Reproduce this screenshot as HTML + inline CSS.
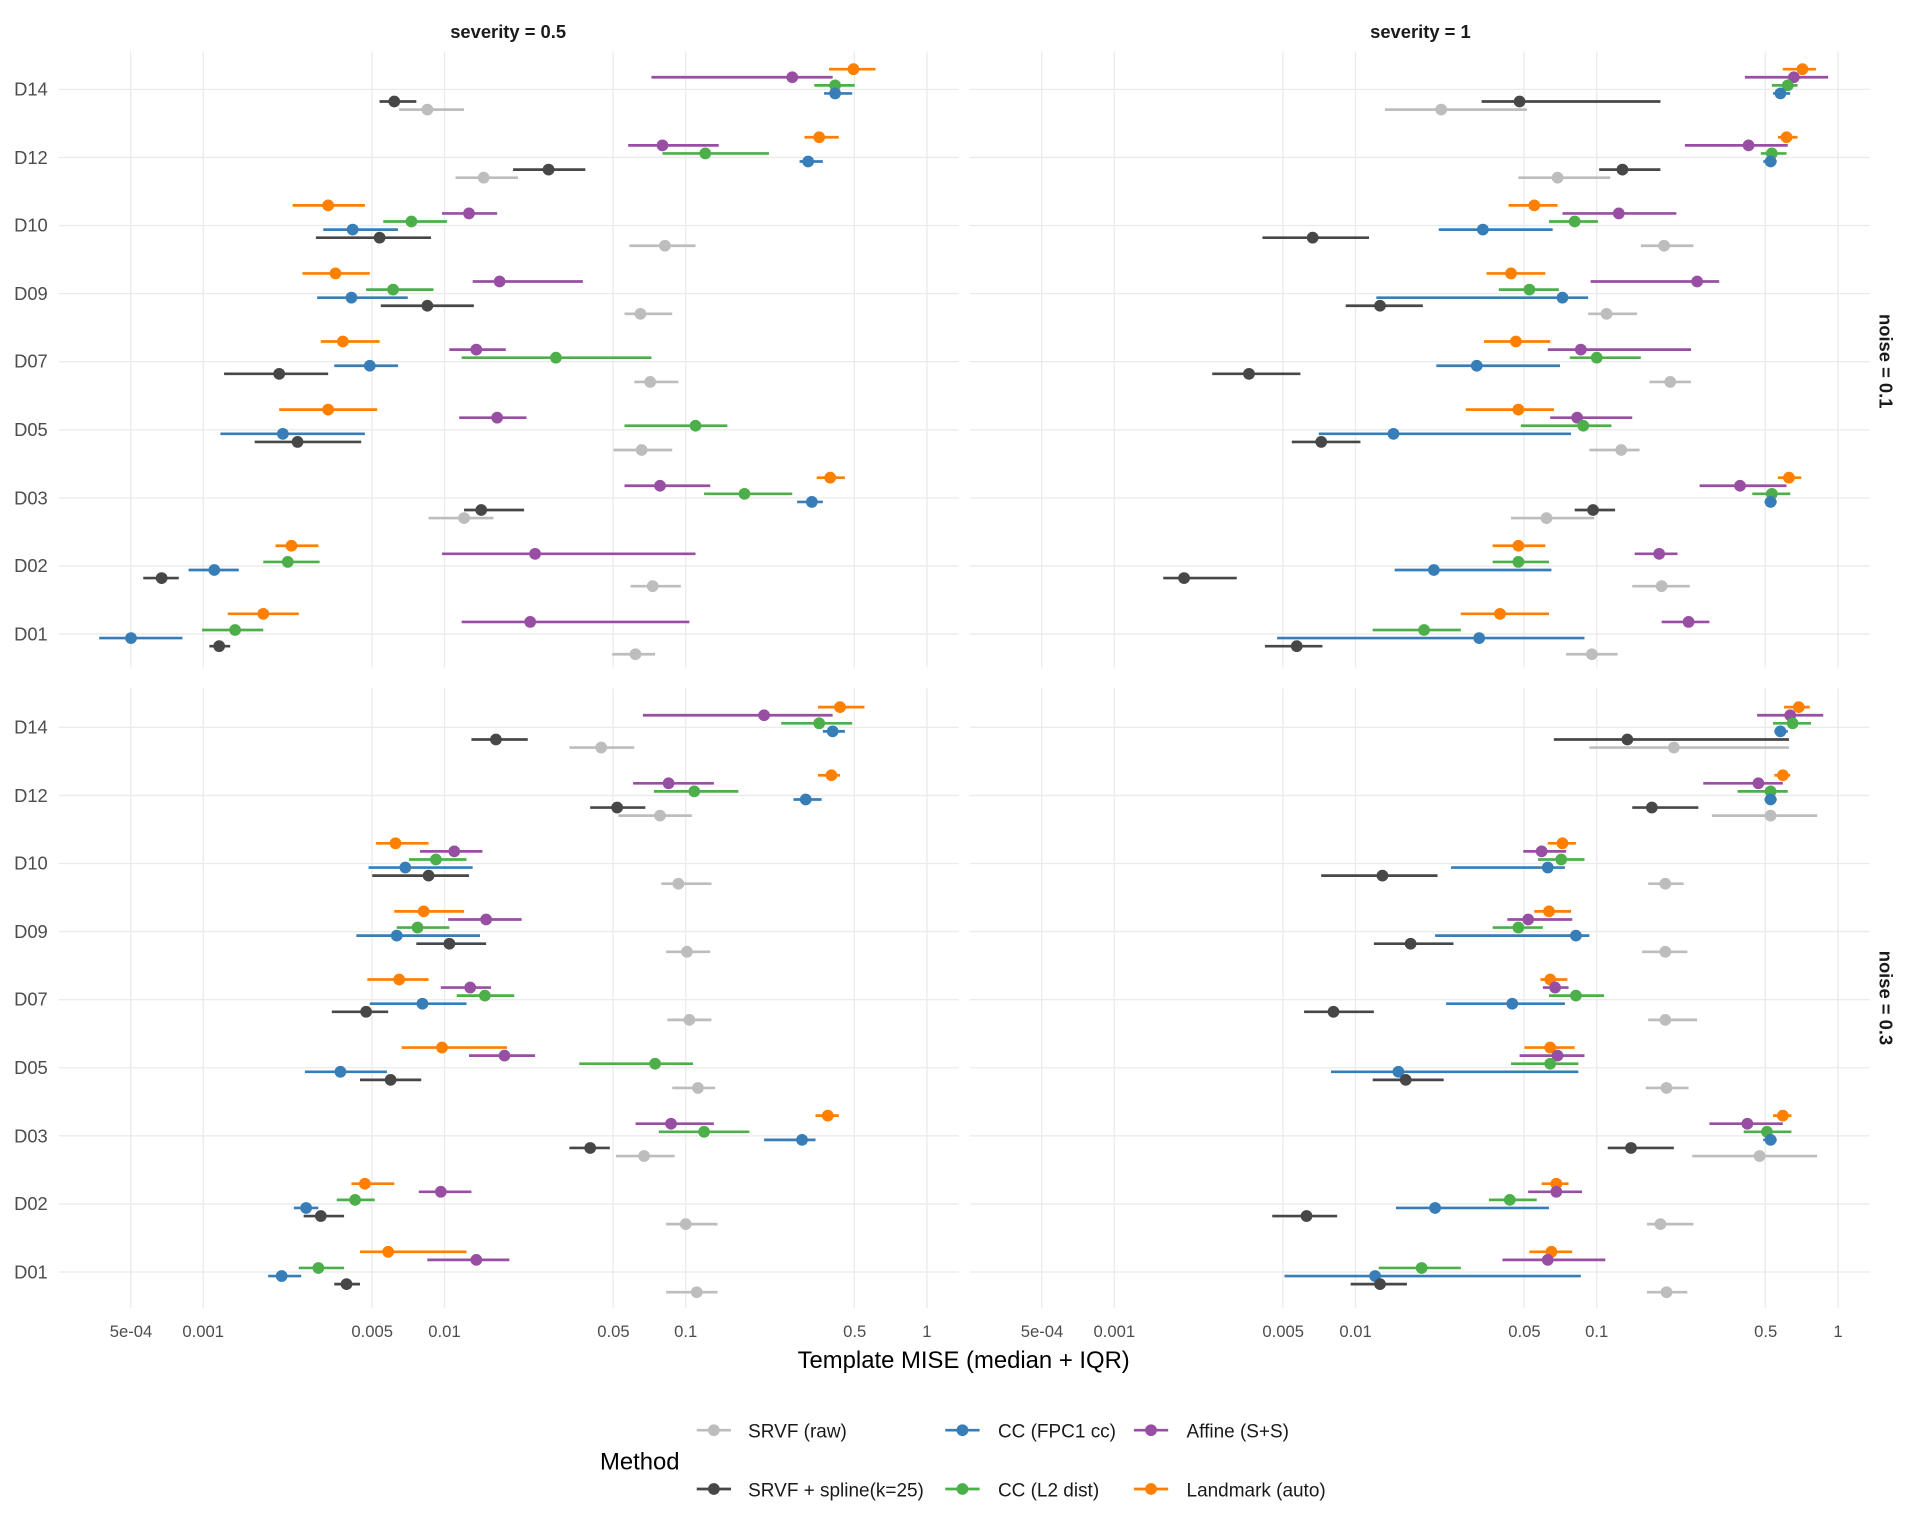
<!DOCTYPE html>
<html><head><meta charset="utf-8"><style>
html,body{margin:0;padding:0;background:#fff;}
svg{display:block;}
text{font-family:"Liberation Sans",sans-serif;}
</style></head><body>
<svg id="s" width="1920" height="1536" viewBox="0 0 1568 1254.4" xmlns="http://www.w3.org/2000/svg">
<g id="grid" stroke="#ebebeb" stroke-width="1.1"></g>
<g id="marks"></g>
<g font-size="15" fill="#4d4d4d" text-anchor="end">
<text x="39" y="78">D14</text><text x="39" y="134">D12</text><text x="39" y="189">D10</text><text x="39" y="245">D09</text><text x="39" y="300">D07</text><text x="39" y="356">D05</text><text x="39" y="412">D03</text><text x="39" y="467">D02</text><text x="39" y="523">D01</text>
<text x="39" y="599">D14</text><text x="39" y="655">D12</text><text x="39" y="710">D10</text><text x="39" y="766">D09</text><text x="39" y="821">D07</text><text x="39" y="877">D05</text><text x="39" y="933">D03</text><text x="39" y="988">D02</text><text x="39" y="1044">D01</text>
</g>
<g font-size="13.6" fill="#4d4d4d" text-anchor="middle">
<text x="107" y="1092">5e-04</text><text x="166" y="1092">0.001</text><text x="304" y="1092">0.005</text><text x="363" y="1092">0.01</text><text x="501" y="1092">0.05</text><text x="560" y="1092">0.1</text><text x="698" y="1092">0.5</text><text x="757" y="1092">1</text>
<text x="851" y="1092">5e-04</text><text x="910" y="1092">0.001</text><text x="1048" y="1092">0.005</text><text x="1107" y="1092">0.01</text><text x="1245" y="1092">0.05</text><text x="1304" y="1092">0.1</text><text x="1442" y="1092">0.5</text><text x="1501" y="1092">1</text>
</g>
<text x="787" y="1117" font-size="19.5" text-anchor="middle" fill="#000">Template MISE (median + IQR)</text>
<text x="415" y="31" font-size="15" font-weight="bold" text-anchor="middle" fill="#1a1a1a">severity = 0.5</text>
<text x="1160" y="31" font-size="15" font-weight="bold" text-anchor="middle" fill="#1a1a1a">severity = 1</text>
<text transform="translate(1535,295) rotate(90)" font-size="15" font-weight="bold" text-anchor="middle" fill="#1a1a1a">noise = 0.1</text>
<text transform="translate(1535,815) rotate(90)" font-size="15" font-weight="bold" text-anchor="middle" fill="#1a1a1a">noise = 0.3</text>
<text x="490" y="1200" font-size="19.5" fill="#000">Method</text>
<g id="leg"></g>
<g font-size="15.5" fill="#1a1a1a">
<text x="611" y="1174">SRVF (raw)</text><text x="815" y="1174">CC (FPC1 cc)</text><text x="969" y="1174">Affine (S+S)</text>
<text x="611" y="1222">SRVF + spline(k=25)</text><text x="815" y="1222">CC (L2 dist)</text><text x="969" y="1222">Landmark (auto)</text>
</g>
</svg>
<script>
var NS="http://www.w3.org/2000/svg";
function el(p,t,a){var e=document.createElementNS(NS,t);for(var k in a)e.setAttribute(k,a[k]);p.appendChild(e);return e;}
var g=document.getElementById('grid'),m=document.getElementById('marks'),lg=document.getElementById('leg');
var panels=[[48,783,42,545],[792,1527,42,545],[48,783,562,1068],[792,1527,562,1068]];
var ticks=[-3.301,-3,-2.301,-2,-1.301,-1,-0.301,0];
panels.forEach(function(p,i){
 var off=(i%2)?1501:757;
 ticks.forEach(function(t){var x=off+197*t;el(g,'line',{x1:x,x2:x,y1:p[2],y2:p[3]});});
 var y0=(i<2)?73:594;
 for(var r=0;r<9;r++){var y=y0+r*55.6;el(g,'line',{x1:p[0],x2:p[1],y1:y,y2:y});}
});
var cols=['#ff7f00','#984ea3','#4daf4a','#377eb8','#474747','#bdbdbd'];
var offs=[-16.5,-9.9,-3.3,3.3,9.9,16.5];
var D=[
[[[697,677,715],[647,532,680],[682,665,698],[682,673,696],[322,310,340],[349,326,379]],
[[669,657,685],[541,513,587],[576,541,628],[660,653,672],[448,419,478],[395,372,423]],
[[268,239,298],[383,361,406],[336,313,365],[288,264,325],[310,258,352],[543,514,568]],
[[274,247,302],[408,386,476],[321,299,354],[287,259,333],[349,311,387],[523,510,549]],
[[280,262,310],[389,367,413],[454,377,532],[302,273,325],[228,183,268],[531,518,554]],
[[268,228,308],[406,375,430],[568,510,594],[231,180,298],[243,208,295],[524,501,549]],
[[678,667,690],[539,510,580],[608,575,647],[663,651,672],[393,379,428],[379,350,403]],
[[238,225,260],[437,361,568],[235,215,261],[175,154,195],[132,117,146],[533,515,556]],
[[215,186,244],[433,377,563],[192,165,215],[107,81,149],[179,171,188],[519,500,535]]],
[[[1472,1456,1483],[1465,1425,1493],[1460,1447,1468],[1454,1448,1462],[1241,1210,1356],[1177,1131,1247]],
[[1459,1452,1468],[1428,1376,1460],[1447,1438,1459],[1446,1440,1451],[1325,1306,1356],[1272,1240,1315]],
[[1253,1232,1272],[1322,1276,1369],[1286,1265,1305],[1211,1175,1268],[1072,1031,1118],[1359,1340,1383]],
[[1234,1214,1262],[1386,1299,1404],[1249,1224,1273],[1276,1124,1297],[1127,1099,1162],[1312,1297,1337]],
[[1238,1212,1266],[1291,1264,1381],[1304,1282,1340],[1206,1173,1274],[1020,990,1062],[1364,1347,1381]],
[[1240,1197,1269],[1288,1266,1333],[1293,1242,1316],[1138,1077,1283],[1079,1055,1111],[1324,1298,1339]],
[[1461,1452,1471],[1421,1388,1459],[1447,1431,1462],[1446,1441,1451],[1301,1286,1319],[1263,1234,1302]],
[[1240,1219,1262],[1355,1335,1370],[1240,1219,1265],[1171,1139,1267],[967,950,1010],[1357,1333,1380]],
[[1225,1193,1265],[1379,1357,1396],[1163,1121,1193],[1208,1043,1294],[1059,1033,1080],[1300,1279,1321]]],
[[[686,668,706],[624,525,680],[669,638,696],[680,672,690],[405,385,431],[491,465,518]],
[[679,668,686],[546,517,583],[567,534,603],[658,648,671],[504,482,527],[539,505,565]],
[[323,307,350],[371,343,394],[356,334,381],[331,301,386],[350,304,383],[554,540,581]],
[[346,322,379],[397,366,426],[341,324,367],[324,291,392],[367,340,397],[561,544,580]],
[[326,300,350],[384,360,401],[396,373,420],[345,302,381],[299,271,317],[563,545,581]],
[[361,328,414],[412,383,437],[535,473,566],[278,249,316],[319,294,344],[570,549,584]],
[[676,666,685],[548,519,583],[575,538,612],[655,624,666],[482,465,498],[526,503,551]],
[[298,287,322],[360,342,385],[290,275,306],[250,240,260],[262,248,281],[560,544,586]],
[[317,294,381],[389,349,416],[260,244,281],[230,219,246],[283,273,294],[569,544,586]]],
[[[1469,1457,1478],[1462,1435,1489],[1464,1448,1479],[1454,1449,1460],[1329,1269,1461],[1367,1298,1461]],
[[1456,1449,1462],[1436,1391,1456],[1446,1419,1460],[1446,1441,1451],[1349,1333,1387],[1446,1398,1484]],
[[1276,1264,1287],[1259,1244,1279],[1275,1256,1294],[1264,1185,1278],[1129,1079,1174],[1360,1346,1375]],
[[1265,1253,1283],[1248,1231,1284],[1240,1219,1260],[1287,1172,1298],[1152,1122,1187],[1360,1341,1378]],
[[1266,1258,1280],[1270,1260,1281],[1287,1265,1310],[1235,1181,1278],[1089,1065,1122],[1360,1346,1386]],
[[1266,1245,1286],[1272,1241,1294],[1266,1234,1289],[1142,1087,1289],[1148,1121,1179],[1361,1344,1379]],
[[1456,1448,1463],[1427,1396,1456],[1443,1424,1463],[1446,1440,1451],[1332,1313,1367],[1437,1382,1484]],
[[1271,1259,1281],[1271,1248,1292],[1233,1216,1255],[1172,1140,1265],[1067,1039,1092],[1356,1345,1383]],
[[1267,1249,1284],[1264,1227,1311],[1161,1126,1193],[1123,1049,1291],[1127,1103,1149],[1361,1345,1378]]]
];
D.forEach(function(P,i){
 var y0=(i<2)?73:594;
 P.forEach(function(R,r){
  var yc=y0+r*55.6;
  R.forEach(function(v,s){
   var y=yc+offs[s];
   el(m,'line',{x1:v[1],x2:v[2],y1:y,y2:y,stroke:cols[s],'stroke-width':2.2});
   el(m,'circle',{cx:v[0],cy:y,r:4.8,fill:cols[s]});
  });
 });
});
var L=[[583,1168,5],[786,1168,3],[940,1168,1],[583,1216,4],[786,1216,2],[940,1216,0]];
L.forEach(function(a){el(lg,'line',{x1:a[0]-14,x2:a[0]+14,y1:a[1],y2:a[1],stroke:cols[a[2]],'stroke-width':2.2});el(lg,'circle',{cx:a[0],cy:a[1],r:4.8,fill:cols[a[2]]});});
</script>
</body></html>
